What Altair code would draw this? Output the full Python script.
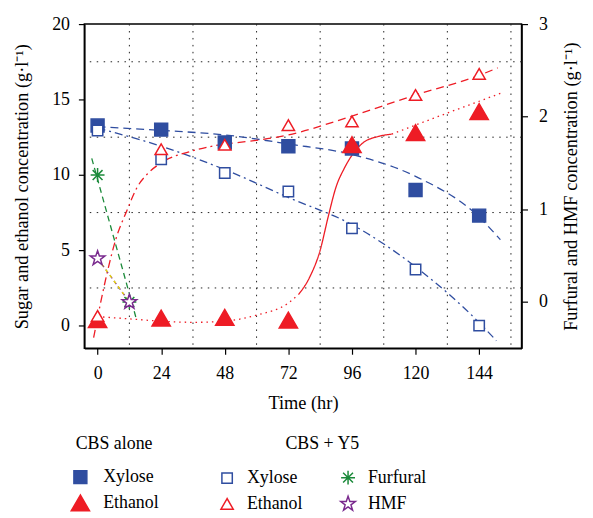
import altair as alt
import pandas as pd

# ---------------- data ----------------
hours = [0, 24, 48, 72, 96, 120, 144]
alone_xylose = [13.27, 13.0, 12.15, 11.9, 11.75, 9.0, 7.3]
alone_ethanol = [0.4, 0.5, 0.55, 0.37, 12.0, 12.8, 14.2]
y5_xylose = [12.94, 11.04, 10.12, 8.9, 6.45, 3.72, 0.0]
y5_ethanol = [0.65, 11.7, 12.0, 13.3, 13.55, 15.3, 16.7]

inhib_hours = [0, 12]
furfural = [1.37, 0.0]   # right axis units
hmf = [0.47, 0.0]        # right axis units

# fitted trend curves
fit_ax_t = [0, 24, 48, 72, 96, 120, 144, 152]
fit_ax_v = [13.2, 12.95, 12.65, 12.05, 11.35, 9.9, 7.2, 5.7]
fit_yx_t = [0, 24, 48, 72, 96, 120, 144, 150.5]
fit_yx_v = [13.1, 11.9, 10.35, 8.5, 6.7, 3.9, 0.2, -1.0]
fit_ye1_t = [-1.5, 1, 4, 7, 11, 15, 19, 24, 36, 48]
fit_ye1_v = [-0.8, 1.4, 3.8, 5.8, 7.6, 9.2, 10.1, 10.8, 11.6, 12.05]
fit_ye2_t = [48, 72, 96, 120, 144, 151]
fit_ye2_v = [12.05, 12.65, 13.9, 15.3, 16.6, 17.1]
fit_ae1_t = [0, 12, 24, 36, 48, 60, 72, 76]
fit_ae1_v = [0.6, 0.45, 0.3, 0.22, 0.3, 0.7, 1.5, 2.1]
fit_ae2_t = [76, 80, 84, 87, 90, 93, 96, 100, 106, 111]
fit_ae2_v = [2.1, 3.2, 5.0, 7.2, 9.2, 10.4, 11.3, 12.1, 12.55, 12.7]
fit_ae3_t = [111, 132, 152]
fit_ae3_v = [12.7, 14.1, 15.4]
fit_fur_t = [-2.2, 14.6]
fit_fur_r = [1.55, -0.18]
fit_hmf_t = [0, 12]
fit_hmf_r = [0.47, 0.0]

grid_t = [12, 36, 60, 84, 108, 132, 156]
grid_v = [2.5, 7.5, 12.5, 17.5]
left_ticks = [0, 5, 10, 15, 20]
right_ticks = [0, 1, 2, 3]

LEFT_DOM = [-1.5, 20]
RIGHT_DOM = [-0.5, 3]

BLUE = "#2F4DA0"
RED = "#EE1C25"
GREEN = "#1B8A3A"
PURPLE = "#7A2A8E"
YELLOW = "#EEE000"
FONT = "Liberation Serif"

STAR = ("M0,-1L0.235,-0.324L0.951,-0.309L0.380,0.124L0.588,0.809L0,0.4"
        "L-0.588,0.809L-0.380,0.124L-0.951,-0.309L-0.235,-0.324Z")
ASTER = "M0,-1L0,1M-1,0L1,0M-0.71,-0.71L0.71,0.71M-0.71,0.71L0.71,-0.71"

# right-axis values mapped onto the left scale
R2L = f"(datum.r - ({RIGHT_DOM[0]})) * {(LEFT_DOM[1]-LEFT_DOM[0])/(RIGHT_DOM[1]-RIGHT_DOM[0])} + ({LEFT_DOM[0]})"

X = alt.X("t:Q", scale=alt.Scale(domain=[-5, 160], nice=False, zero=False),
          axis=alt.Axis(values=hours, title="Time (hr)", tickSize=6,
                        labelPadding=10, titlePadding=12))
Y = alt.Y("y:Q", scale=alt.Scale(domain=LEFT_DOM, nice=False, zero=False),
          axis=alt.Axis(values=left_ticks, tickSize=6, labelPadding=9, titlePadding=20,
                        title="Sugar and ethanol concentration (g·l⁻¹)"))

# grid
grid_x = alt.Chart(pd.DataFrame({"t": grid_t})).mark_rule(
    color="#222", strokeDash=[1.5, 5.5], strokeWidth=1).encode(x=X)
grid_y = alt.Chart(pd.DataFrame({"y": grid_v})).mark_rule(
    color="#222", strokeDash=[1.5, 5.5], strokeWidth=1).encode(y=Y)


def fit(ts, vs, color, dash, right=False):
    if right:
        c = alt.Chart(pd.DataFrame({"t": ts, "r": vs})).transform_calculate(y=R2L)
    else:
        c = alt.Chart(pd.DataFrame({"t": ts, "y": vs}))
    return c.mark_line(color=color, strokeDash=dash, strokeWidth=1.3,
                       interpolate="monotone").encode(x=X, y=Y)


DASH = [8, 5]
DASHDOT = [8, 4, 2, 4]
DOT = [1.5, 4]

fits = [
    fit(fit_ax_t, fit_ax_v, BLUE, DASH),
    fit(fit_yx_t, fit_yx_v, BLUE, DASHDOT),
    fit(fit_ye1_t, fit_ye1_v, RED, DASHDOT),
    fit(fit_ye2_t, fit_ye2_v, RED, DASH),
    fit(fit_ae1_t, fit_ae1_v, RED, DOT),
    fit(fit_ae2_t, fit_ae2_v, RED, [1, 0]),
    fit(fit_ae3_t, fit_ae3_v, RED, DOT),
    fit(fit_fur_t, fit_fur_r, GREEN, [6, 4], right=True),
    fit(fit_hmf_t, fit_hmf_r, PURPLE, [4, 3], right=True),
    fit(fit_hmf_t, fit_hmf_r, YELLOW, [3, 4], right=True),
]

# ---- CBS alone points ----
alone_df = pd.DataFrame({
    "t": hours * 2,
    "y": alone_xylose + alone_ethanol,
    "series": ["Xylose"] * len(hours) + ["Ethanol"] * len(hours),
})
leg1 = alt.Legend(title="CBS alone", orient="none", legendX=-14, legendY=415,
                  titleFontSize=18, titleFontWeight="normal", titleFont=FONT,
                  titleAnchor="middle", titlePadding=15, labelFontSize=18,
                  labelFont=FONT, labelOffset=13, rowPadding=5,
                  symbolStrokeWidth=1.5, titleColor="black", labelColor="black")
dom1 = ["Xylose", "Ethanol"]
alone_pts = alt.Chart(alone_df).mark_point(opacity=1, strokeWidth=1.5).encode(
    x=X, y=Y,
    shape=alt.Shape("series:N", scale=alt.Scale(domain=dom1, range=["square", "triangle-up"]), legend=leg1),
    fill=alt.Fill("series:N", scale=alt.Scale(domain=dom1, range=[BLUE, RED]), legend=leg1),
    stroke=alt.Stroke("series:N", scale=alt.Scale(domain=dom1, range=[BLUE, RED]), legend=leg1),
    size=alt.Size("series:N", scale=alt.Scale(domain=dom1, range=[170, 340]), legend=leg1),
)

# ---- CBS + Y5 points ----
y5_df = pd.DataFrame({
    "t": hours * 2 + inhib_hours * 2,
    "r": y5_xylose + y5_ethanol + furfural + hmf,
    "axis": ["L"] * (2 * len(hours)) + ["R"] * (2 * len(inhib_hours)),
    "series": ["Xylose"] * len(hours) + ["Ethanol"] * len(hours)
              + ["Furfural"] * len(inhib_hours) + ["HMF"] * len(inhib_hours),
})
leg2 = alt.Legend(title="CBS + Y5", orient="none", legendX=135, legendY=415,
                  columns=2, columnPadding=35,
                  titleFontSize=18, titleFontWeight="normal", titleFont=FONT,
                  titleAnchor="middle", titlePadding=15, labelFontSize=18,
                  labelFont=FONT, labelOffset=11, rowPadding=5,
                  symbolStrokeWidth=1.5, titleColor="black", labelColor="black")
dom2 = ["Xylose", "Ethanol", "Furfural", "HMF"]
y5_pts = alt.Chart(y5_df).transform_calculate(
    y=f"datum.axis == 'R' ? {R2L} : datum.r"
).mark_point(opacity=1, strokeWidth=1.5).encode(
    x=X, y=Y,
    shape=alt.Shape("series:N", scale=alt.Scale(domain=dom2, range=["square", "triangle-up", ASTER, STAR]), legend=leg2),
    fill=alt.Fill("series:N", scale=alt.Scale(domain=dom2, range=["white", "white", "transparent", "white"]), legend=leg2),
    stroke=alt.Stroke("series:N", scale=alt.Scale(domain=dom2, range=[BLUE, RED, GREEN, PURPLE]), legend=leg2),
    size=alt.Size("series:N", scale=alt.Scale(domain=dom2, range=[110, 240, 340, 300]), legend=leg2),
)

left_part = alt.layer(grid_x, grid_y, *fits, alone_pts, y5_pts).resolve_scale(
    shape="independent", fill="independent", stroke="independent", size="independent")

right_axis = alt.Chart(pd.DataFrame({"r": RIGHT_DOM})).mark_point(opacity=0).encode(
    y=alt.Y("r:Q", scale=alt.Scale(domain=RIGHT_DOM, nice=False, zero=False),
            axis=alt.Axis(orient="right", values=right_ticks, tickSize=6, labelPadding=11,
                          titlePadding=14, titleAngle=270, titleBaseline="top",
                          title="Furfural and HMF concentration (g·l⁻¹)"))
)

chart = alt.layer(left_part, right_axis).resolve_scale(y="independent").properties(
    width=441, height=327
).configure(font=FONT).configure_view(
    stroke="black", strokeWidth=1.5
).configure_axis(
    labelFont=FONT, titleFont=FONT, labelFontSize=18, titleFontSize=18.5,
    titleFontWeight="normal", labelColor="black", titleColor="black",
    domainColor="black", domainWidth=1.5, tickColor="black", tickWidth=1.2,
    grid=False,
)

chart.save("out.html", embed_options={"renderer": "svg", "actions": False})
